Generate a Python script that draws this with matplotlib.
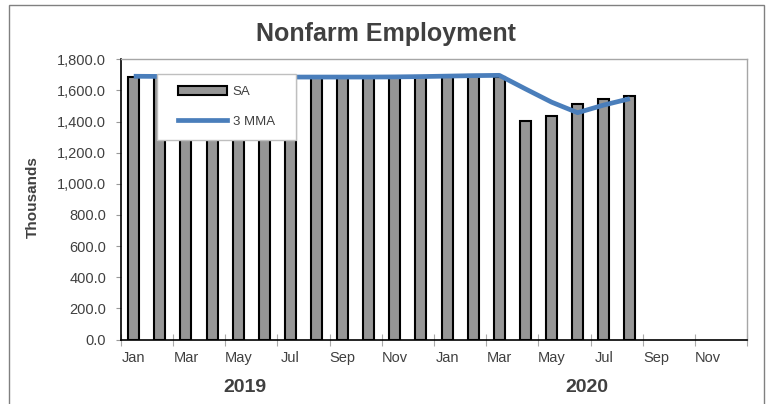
import matplotlib
matplotlib.use("Agg")
import matplotlib.pyplot as plt
from matplotlib.patches import Rectangle
from matplotlib.lines import Line2D
from matplotlib.ticker import FuncFormatter, FixedLocator
import numpy as np

plt.rcParams['font.family'] = ['Liberation Sans', 'DejaVu Sans']

months = ["Jan", "Feb", "Mar", "Apr", "May", "Jun", "Jul", "Aug", "Sep", "Oct", "Nov", "Dec"] * 2
years = ["2019", "2020"]
sa = [1686, 1688, 1689, 1688, 1687, 1686, 1687, 1686, 1685, 1687, 1688, 1690,
      1693, 1697, 1688, 1404, 1434, 1511, 1543, 1566]
mma3 = [1691, 1690, 1689, 1688, 1687, 1686, 1686, 1686, 1686, 1686, 1687, 1689,
        1692, 1695, 1697, 1610, 1525, 1457, 1506, 1547]
yticks = [0, 200, 400, 600, 800, 1000, 1200, 1400, 1600, 1800]

txt = '#404040'
fig = plt.figure(figsize=(7.68, 4.04), dpi=100)
ax = fig.add_axes([120.7/768, 1-339.5/404, (747.3-120.7)/768, (339.5-59.3)/404])

x = np.arange(len(sa))
ax.bar(x, sa, width=0.42, color='#969696', edgecolor='black', linewidth=1.5, zorder=2)
ax.plot(np.arange(len(mma3)), mma3, color='#4a7ebb', linewidth=3.4, zorder=3,
        solid_capstyle='butt', solid_joinstyle='round')

ax.set_xlim(-0.5, len(months) - 0.5)
ax.set_ylim(0, 1800)
ax.set_yticks(yticks)
ax.yaxis.set_major_formatter(FuncFormatter(lambda v, p: f"{v:,.1f}"))
ax.tick_params(axis='y', direction='out', length=3.5, width=0.8, color='#999999',
               labelsize=10.5, labelcolor=txt, pad=7)

# x: tick marks at every second month boundary, labels at odd months
ax.xaxis.set_major_locator(FixedLocator(np.arange(-0.5, len(months), 2)))
ax.xaxis.set_minor_locator(FixedLocator(np.arange(0, len(months), 2)))
ax.set_xticklabels([], minor=False)
ax.set_xticklabels(months[::2], minor=True)
ax.tick_params(axis='x', which='major', direction='inout', length=8, width=0.8, color='#aaaaaa')
ax.tick_params(axis='x', which='minor', length=0, labelsize=10.5, labelcolor=txt, pad=8)

for s in ['top', 'right']:
    ax.spines[s].set_color('#a6a6a6')
    ax.spines[s].set_linewidth(1.0)
for s in ['left', 'bottom']:
    ax.spines[s].set_color('black')
    ax.spines[s].set_linewidth(1.2)

# legend box
box = Rectangle((0.058, 0.7125), 0.222, 0.235, transform=ax.transAxes,
                facecolor='white', edgecolor='#bfbfbf', linewidth=1.0, zorder=4)
ax.add_patch(box)
handles = [Rectangle((0, 0), 1, 1, facecolor='#969696', edgecolor='black', linewidth=1.5),
           Line2D([0], [0], color='#4a7ebb', linewidth=3.4)]
leg = ax.legend(handles, ['SA', '3 MMA'], loc='center', bbox_to_anchor=(0.169, 0.83),
                frameon=False, fontsize=9.5, handlelength=3.7, handletextpad=0.4,
                labelspacing=1.35, borderpad=0)
for t in leg.get_texts():
    t.set_color(txt)
leg.set_zorder(5)

fig.text(386/768, 1-34/404, "Nonfarm Employment", ha='center', va='center',
         fontsize=18, fontweight='bold', color=txt)
fig.text(33/768, 1-197/404, "Thousands", ha='center', va='center', rotation=90,
         fontsize=11, fontweight='bold', color=txt)
fig.text(245/768, 1-388/404, years[0], ha='center', va='center',
         fontsize=14, fontweight='bold', color=txt)
fig.text(587/768, 1-388/404, years[1], ha='center', va='center',
         fontsize=14, fontweight='bold', color=txt)

border = Rectangle((9.3/768, -0.02), (764-9.3)/768, 1-5.3/404 + 0.02, transform=fig.transFigure,
                   facecolor='none', edgecolor='#808080', linewidth=1.0)
fig.patches.append(border)

fig.savefig("out.png", dpi=100)
